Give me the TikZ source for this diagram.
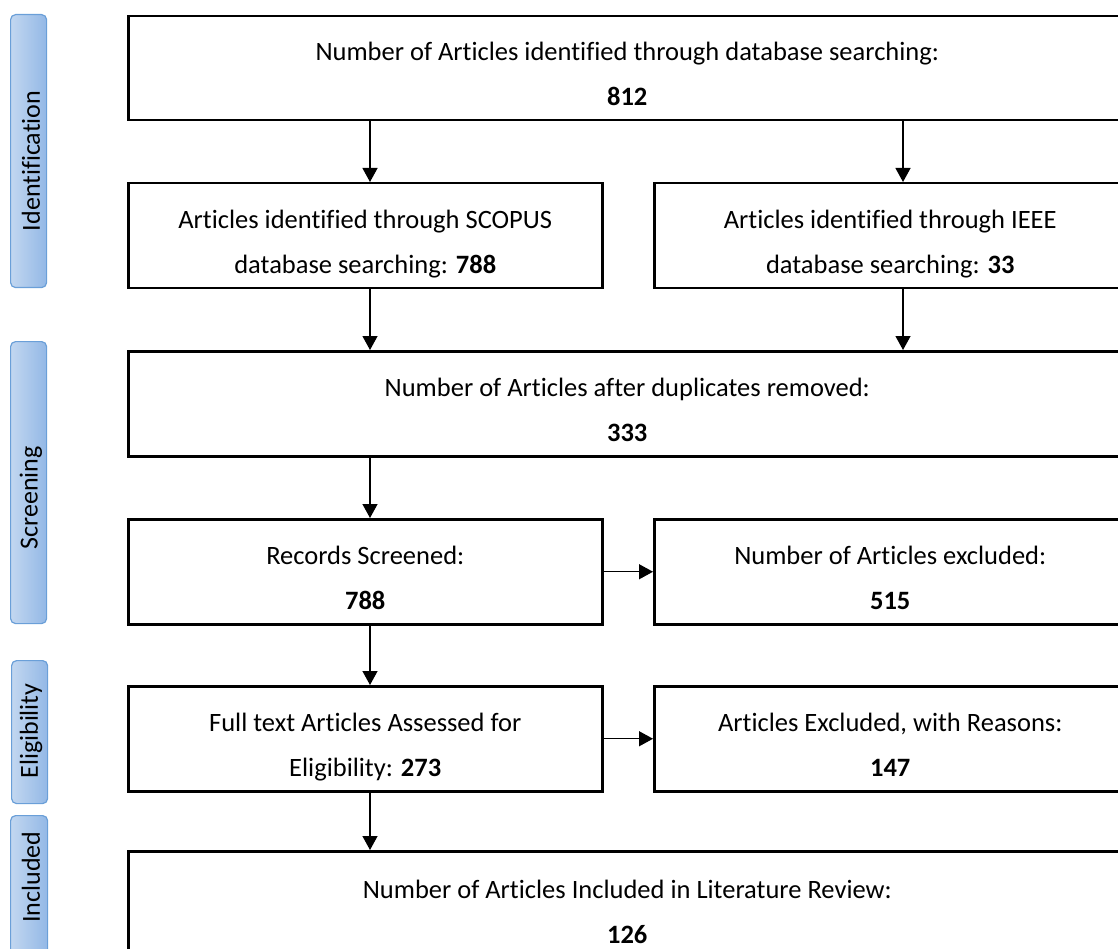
\documentclass[tikz,border=0pt]{standalone}
\usepackage{fontspec}
\setmainfont[Ligatures=NoCommon]{Carlito}
\usetikzlibrary{arrows.meta}
\definecolor{sideborder}{HTML}{6A9FD8}
\definecolor{sideleft}{HTML}{C2D7F0}
\definecolor{sideright}{HTML}{93B8E6}
\tikzset{
  box/.style={draw=black, line width=2.5pt, anchor=north west, align=center,
    inner sep=0pt, text height=75pt, text depth=0pt,
    font=\fontsize{26.5}{45}\selectfont},
  side/.style={draw=sideborder, line width=1.2pt, rounded corners=5pt,
    left color=sideleft, right color=sideright, minimum width=36pt,
    anchor=north west, inner sep=0pt},
  sidetext/.style={font=\fontsize{26}{30}\selectfont, rotate=90},
  arr/.style={line width=1.3pt, -{Triangle[length=14pt,width=15pt]}},
}
\begin{document}
\begin{tikzpicture}[x=1pt,y=-1pt]
\useasboundingbox (0,0) rectangle (1118,949);
% side labels
\node[side, minimum height=273pt] (sid) at (10,14) {};
\node[sidetext] (tid) at (31,161) {Identification};
\node[side, minimum height=282pt] (ssc) at (10,341) {};
\node[sidetext] (tsc) at (31,498) {Screening};
\node[side, minimum height=143pt] (sel) at (11,660) {};
\node[sidetext] (tel) at (31,731) {Eligibility};
\node[side, minimum height=140pt, minimum width=37pt] (sin) at (10,815) {};
\node[sidetext] (tin) at (31,877) {Included};
% boxes
\node[box, minimum width=998pt, minimum height=104pt] (top) at (127,15)
  {Number of Articles identified through database searching:\\\textbf{812}};
\node[box, minimum width=474pt, minimum height=105pt] (scopus) at (127,182)
  {Articles identified through SCOPUS\\database searching: \textbf{788}};
\node[box, minimum width=472pt, minimum height=105pt] (ieee) at (653,182)
  {Articles identified through IEEE\\database searching: \textbf{33}};
\node[box, minimum width=998pt, minimum height=105pt] (dup) at (127,350)
  {Number of Articles after duplicates removed:\\\textbf{333}};
\node[box, minimum width=474pt, minimum height=105pt] (scr) at (127,518)
  {Records Screened:\\\textbf{788}};
\node[box, minimum width=472pt, minimum height=105pt] (exc) at (653,518)
  {Number of Articles excluded:\\\textbf{515}};
\node[box, minimum width=474pt, minimum height=105pt] (full) at (127,685)
  {Full text Articles Assessed for\\Eligibility: \textbf{273}};
\node[box, minimum width=472pt, minimum height=105pt] (rea) at (653,685)
  {Articles Excluded, with Reasons:\\\textbf{147}};
\node[box, minimum width=998pt, minimum height=110pt] (inc) at (127,850)
  {Number of Articles Included in Literature Review:\\\textbf{126}};
% columns
\coordinate (cl) at (370,0);
\coordinate (cr) at (903,0);
% arrows
\draw[arr] (top.south -| cl) -- (scopus.north -| cl);
\draw[arr] (top.south -| cr) -- (ieee.north -| cr);
\draw[arr] (scopus.south -| cl) -- (dup.north -| cl);
\draw[arr] (ieee.south -| cr) -- (dup.north -| cr);
\draw[arr] (dup.south -| cl) -- (scr.north -| cl);
\draw[arr] (scr.east) -- (exc.west);
\draw[arr] (scr.south -| cl) -- (full.north -| cl);
\draw[arr] (full.east) -- (rea.west);
\draw[arr] (full.south -| cl) -- (inc.north -| cl);
\end{tikzpicture}
\end{document}
